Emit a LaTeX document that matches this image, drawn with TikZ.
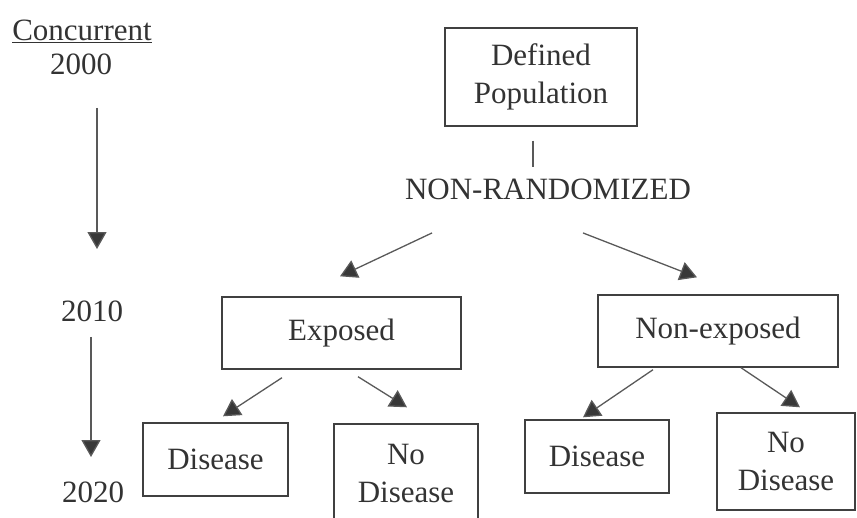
\documentclass[tikz,border=0pt]{standalone}
\usepackage{fontspec}
\setmainfont{Liberation Serif}
\usetikzlibrary{arrows.meta}

\begin{document}
\begin{tikzpicture}[x=1pt,y=-1pt,
  box/.style={draw=black!75,line width=1.4pt,text=black!80,align=center,
    font=\fontsize{31}{38}\selectfont},
  lbl/.style={text=black!80,align=center,font=\fontsize{31}{38}\selectfont},
  arr/.style={draw=black!65,line width=1.3pt,
    -{Triangle[length=17pt,width=19pt,fill=black!78]}}]

  \useasboundingbox (0,0) rectangle (857,517);

  % time line
  \node[lbl] (concur) at (82,31) {\underline{Concurrent}};
  \node[lbl] (y2000) at (81,64) {2000};
  \node[lbl] (y2010) at (92,311) {2010};
  \node[lbl] (y2020) at (93,492) {2020};
  \draw[arr] ([shift={(16,30)}]y2000.south) -- ([shift={(5,-48)}]y2010.north);
  \draw[arr] ([shift={(-1,12)}]y2010.south) -- ([shift={(-2,-21)}]y2020.north);

  % boxes
  \node[box,minimum width=192pt,minimum height=98pt] (pop) at (541,77) {Defined\\Population};
  \node[lbl] (nonrand) at (548,189) {NON-RANDOMIZED};
  \node[box,minimum width=239pt,minimum height=72pt] (exp) at (341.5,333) {Exposed};
  \node[box,minimum width=240pt,minimum height=72pt] (nonexp) at (718,331) {Non-exposed};
  \node[box,minimum width=145pt,minimum height=73pt] (disA) at (215.5,459.5) {Disease};
  \node[box,minimum width=144pt,minimum height=98pt] (nodisA) at (406,473) {No\\Disease};
  \node[box,minimum width=144pt,minimum height=73pt] (disB) at (597,456.5) {Disease};
  \node[box,minimum width=138pt,minimum height=97pt] (nodisB) at (786,461.5) {No\\Disease};

  % connectors
  \draw[draw=black!65,line width=1.3pt] ([shift={(-8,14)}]pop.south) -- ([shift={(-15,-8)}]nonrand.north);
  \draw[arr] ([shift={(-116,30)}]nonrand.south) -- ([shift={(-1.5,-20)}]exp.north);
  \draw[arr] ([shift={(35,30)}]nonrand.south) -- ([shift={(-21,-17)}]nonexp.north);
  \draw[arr] ([shift={(-59.5,8)}]exp.south) -- ([shift={(7.5,-6)}]disA.north);
  \draw[arr] ([shift={(16.5,7)}]exp.south) -- ([shift={(1,-16)}]nodisA.north);
  \draw[arr] ([shift={(-65,2)}]nonexp.south) -- ([shift={(-14,-2)}]disB.north);
  \draw[arr] ([shift={(23,0)}]nonexp.south) -- ([shift={(14,-5)}]nodisB.north);

\end{tikzpicture}
\end{document}
